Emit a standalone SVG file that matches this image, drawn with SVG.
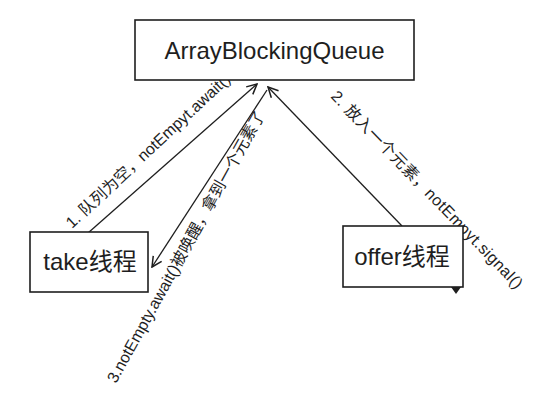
<svg xmlns="http://www.w3.org/2000/svg" width="559" height="400" viewBox="0 0 559 400">
<style>
.box{fill:#ffffff;stroke:#1e1e1e;stroke-width:1.6}
.lbl{font-family:"Liberation Sans","Noto Sans CJK SC",sans-serif;fill:#1e1e1e}
.node{font-size:24px;text-anchor:middle}
.edge{font-size:16px}
.ln{fill:none;stroke:#1e1e1e;stroke-width:1.3}
</style>
<defs>
<marker id="arr" viewBox="0 0 12 12" refX="11" refY="6" markerWidth="12" markerHeight="12" markerUnits="userSpaceOnUse" orient="auto">
<path d="M1,1 L11,6 L1,11" fill="none" stroke="#1e1e1e" stroke-width="1.5"/>
</marker>
</defs>
<rect width="559" height="400" fill="#ffffff"/>
<g id="connectors">
<line class="ln" x1="88" y1="233" x2="257" y2="84" marker-end="url(#arr)"/>
<line class="ln" x1="267" y1="90" x2="152" y2="267" marker-end="url(#arr)"/>
<line class="ln" x1="402" y1="226" x2="268" y2="87" marker-end="url(#arr)"/>
<text class="lbl edge" transform="translate(72,229) rotate(-43)">1. 队列为空，notEmpyt.await()</text>
<text class="lbl edge" transform="translate(330,97) rotate(46)" textLength="268">2. 放入一个元素，notEmpyt.signal()</text>
<text class="lbl edge" transform="translate(116,384) rotate(-61)">3.notEmpty.await()被唤醒，拿到一个元素了</text>
</g>
<g id="queue">
<rect class="box" x="135" y="20" width="279" height="60"/>
<text class="lbl node" x="274.5" y="59">ArrayBlockingQueue</text>
</g>
<g id="take">
<rect class="box" x="30" y="232" width="118" height="60"/>
<text class="lbl node" x="90" y="270">take线程</text>
</g>
<g id="offer">
<rect class="box" x="343" y="226" width="120" height="61"/>
<text class="lbl node" x="402" y="265">offer线程</text>
<path d="M451,287 L461,287 L456,294 Z" fill="#1e1e1e"/>
</g>
</svg>
